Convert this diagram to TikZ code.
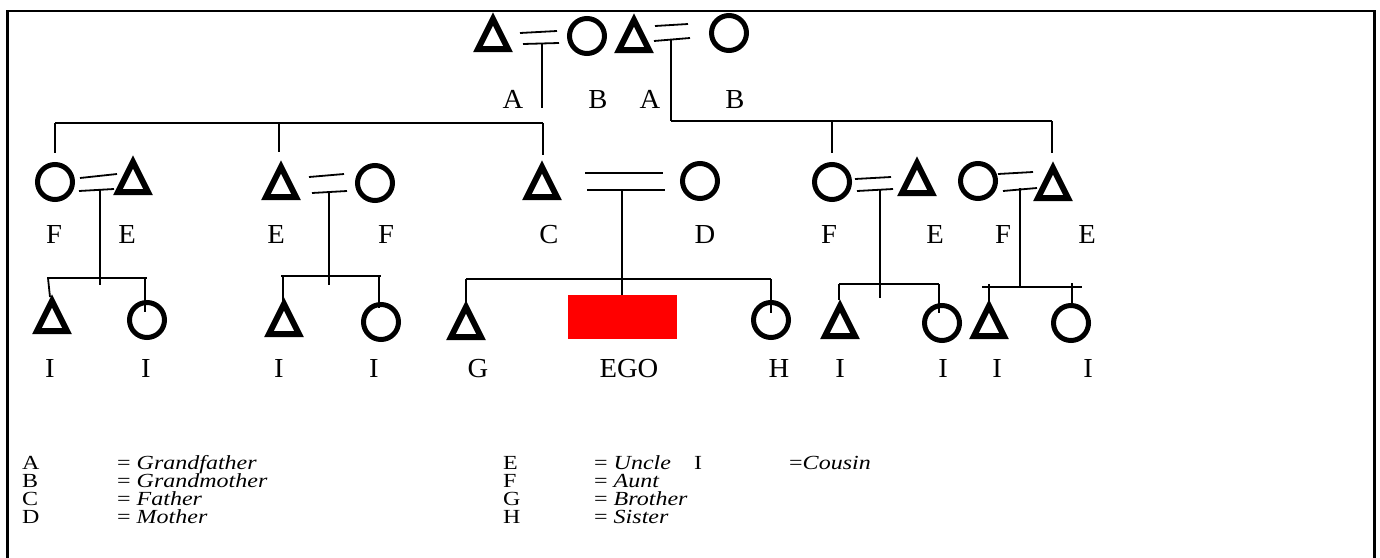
\documentclass[tikz,border=0pt]{standalone}
\usepackage{fontspec}
\setmainfont{Liberation Serif}
\newfontfamily\lblfont[FakeStretch=1.04]{Liberation Serif}
\newfontfamily\legfont[FakeStretch=1.2]{Liberation Serif}
% a thin kinship line between two named end points
\newcommand\kinline[3]{\coordinate (#1-a) at #2; \coordinate (#1-b) at #3; \draw[kin] (#1-a) -- (#1-b);}
\begin{document}
\begin{tikzpicture}[x=1pt,y=-1pt,
  kin/.style={line width=1.8pt},
  frameline/.style={line width=2.6pt},
  fem/.style={circle,draw,line width=5pt,minimum size=35pt,inner sep=0pt},
  lbl/.style={font=\lblfont\fontsize{27.5}{30}\selectfont,inner sep=0pt,anchor=base},
  leg/.style={font=\legfont\fontsize{20}{20}\selectfont,inner sep=0pt,anchor=base west},
  male/.pic={\draw[line width=6pt,line join=miter] (-15,-3) -- (0,-33) -- (15,-3) -- cycle;
             \coordinate (-apex) at (0,-39);},
]
\useasboundingbox (0,0) rectangle (1380,557);
\draw[frameline] (7.5,570) -- (7.5,11) -- (1374.5,11) -- (1374.5,570);

% ---------- grandparents ----------
\pic (gf1) at (493,52) {male};
\node[fem] (gm1) at (587,36) {};
\pic (gf2) at (634,53) {male};
\node[fem] (gm2) at (729,33) {};

\kinline{m1t}{(520,33)}{(557,31)}
\kinline{m1b}{(523,44)}{(559,43)}
\kinline{d1}{(542,44)}{(542,108)}
\kinline{bar1}{(55,123)}{(543,123)}
\kinline{t11}{(55,123)}{(55,153)}
\kinline{t12}{(279,123)}{(279,152)}
\kinline{t13}{(543,123)}{(543,155)}

\kinline{m2t}{(655,26)}{(688,24)}
\kinline{m2b}{(654,41)}{(690,38)}
\kinline{d2}{(671,40)}{(671,121)}
\kinline{bar2}{(671,121)}{(1052,121)}
\kinline{t21}{(832,121)}{(832,153)}
\kinline{t22}{(1052,121)}{(1052,153)}

\node[lbl] (lA1) at (513,108) {A};
\node[lbl] (lB1) at (598,108) {B};
\node[lbl] (lA2) at (650,108) {A};
\node[lbl] (lB2) at (735,108) {B};

% ---------- parents' generation ----------
\node[fem] (f1) at (55,182) {};
\pic (e1) at (133,195) {male};
\kinline{m3t}{(80,178)}{(117,174)}
\kinline{m3b}{(79,191)}{(114,189)}
\kinline{d3}{(100,189)}{(100,285)}
\kinline{bar3}{(47,278)}{(147,278)}
\kinline{s31}{(48,278)}{(50,297)}
\kinline{s32}{(145,278)}{(145,312)}

\pic (e2) at (281,200) {male};
\node[fem] (f2) at (375,183) {};
\kinline{m4t}{(309,177)}{(344,174)}
\kinline{m4b}{(312,193)}{(347,191)}
\kinline{d4}{(329,191)}{(329,285)}
\kinline{bar4}{(281,276)}{(381,276)}
\kinline{s41}{(283,276)}{(283,302)}
\kinline{s42}{(379,276)}{(379,308)}

\pic (c) at (542,200) {male};
\node[fem] (d) at (700,181) {};
\kinline{m5t}{(585,173)}{(663,173)}
\kinline{m5b}{(587,190)}{(665,190)}
\kinline{d5}{(622,190)}{(622,295)}
\kinline{bar5}{(466,279)}{(771,279)}
\kinline{s51}{(466,279)}{(466,302)}
\kinline{s52}{(771,279)}{(771,313)}

\node[fem] (f3) at (832,182) {};
\pic (e3) at (917,196) {male};
\kinline{m6t}{(855,179)}{(891,177)}
\kinline{m6b}{(857,191)}{(893,189)}
\kinline{d6}{(880,189)}{(880,298)}
\kinline{bar6}{(839,284)}{(939,284)}
\kinline{s61}{(839,284)}{(839,300)}
\kinline{s62}{(939,284)}{(939,313)}

\node[fem] (f4) at (978,181) {};
\pic (e4) at (1053,201) {male};
\kinline{m7t}{(998,174)}{(1033,172)}
\kinline{m7b}{(1003,191)}{(1037,188)}
\kinline{d7}{(1020,188)}{(1020,287)}
\kinline{bar7}{(982,287)}{(1082,287)}
\kinline{s71}{(989,284)}{(989,303)}
\kinline{s72}{(1072,283)}{(1072,303)}

\node[lbl] (lF1) at (54,243) {F};
\node[lbl] (lE1) at (127,243) {E};
\node[lbl] (lE2) at (276,243) {E};
\node[lbl] (lF2) at (386,243) {F};
\node[lbl] (lC) at (549,243) {C};
\node[lbl] (lD) at (705,243) {D};
\node[lbl] (lF3) at (829,243) {F};
\node[lbl] (lE3) at (935,243) {E};
\node[lbl] (lF4) at (1003,243) {F};
\node[lbl] (lE4) at (1087,243) {E};

% ---------- ego's generation ----------
\pic (i1) at (52,334) {male};
\node[fem] (i2) at (147,320) {};
\pic (i3) at (284,337) {male};
\node[fem] (i4) at (381,322) {};
\pic (g) at (466,340) {male};
\node[fill=red,draw=none,inner sep=0pt,minimum width=109pt,minimum height=44pt] (ego) at (622.5,317) {};
\node[fem] (h) at (771,320) {};
\pic (i5) at (840,339) {male};
\node[fem] (i6) at (942,323) {};
\pic (i7) at (989,339) {male};
\node[fem] (i8) at (1071,323) {};

\node[lbl] (lI1) at (50,377) {I};
\node[lbl] (lI2) at (146,377) {I};
\node[lbl] (lI3) at (279,377) {I};
\node[lbl] (lI4) at (374,377) {I};
\node[lbl] (lG) at (478,377) {G};
\node[lbl] (lEGO) at (629,377) {EGO};
\node[lbl] (lH) at (779,377) {H};
\node[lbl] (lI5) at (840,377) {I};
\node[lbl] (lI6) at (943,377) {I};
\node[lbl] (lI7) at (997,377) {I};
\node[lbl] (lI8) at (1088,377) {I};

% ---------- key ----------
\node[leg] (kA) at (22,469) {A};
\node[leg] (kAd) at (117,469) {= \textit{Grandfather}};
\node[leg] (kB) at (22,487) {B};
\node[leg] (kBd) at (117,487) {= \textit{Grandmother}};
\node[leg] (kC) at (22,505) {C};
\node[leg] (kCd) at (117,505) {= \textit{Father}};
\node[leg] (kD) at (22,523) {D};
\node[leg] (kDd) at (117,523) {= \textit{Mother}};

\node[leg] (kE) at (503,469) {E};
\node[leg] (kEd) at (594,469) {= \textit{Uncle}};
\node[leg] (kI) at (694,469) {I};
\node[leg] (kId) at (789,469) {=\textit{Cousin}};
\node[leg] (kF) at (503,487) {F};
\node[leg] (kFd) at (594,487) {= \textit{Aunt}};
\node[leg] (kG) at (503,505) {G};
\node[leg] (kGd) at (594,505) {= \textit{Brother}};
\node[leg] (kH) at (503,523) {H};
\node[leg] (kHd) at (594,523) {= \textit{Sister}};
\end{tikzpicture}
\end{document}
